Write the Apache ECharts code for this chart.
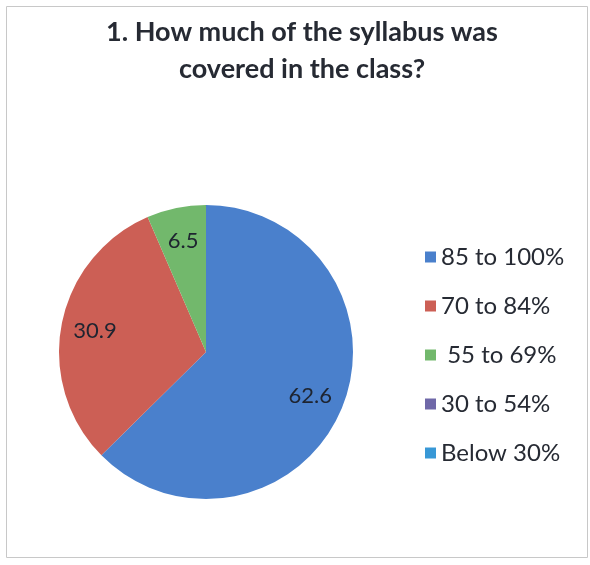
<!DOCTYPE html>
<html><head><meta charset="utf-8">
<script src="https://cdn.jsdelivr.net/npm/echarts@6/dist/echarts.min.js"></script>
<style>html,body{margin:0;padding:0;background:#fff}#c{width:590px;height:565px}</style>
</head><body><div id="c"></div>
<script>
const titleText = "1. How much of the syllabus was\ncovered in the class?";
const categories = ["85 to 100%", "70 to 84%", " 55 to 69%", "30 to 54%", "Below 30%"];
const values = [62.6, 30.9, 6.5, 0, 0];
const colors = ["#4A80CC", "#CC5F55", "#72B86C", "#6F68A8", "#3898D6"];

const chart = echarts.init(document.getElementById('c'));
const data = categories.map((n, i) => ({ name: n, value: values[i], itemStyle: { color: colors[i] } }));
const font = "Lato, 'Open Sans', sans-serif";
chart.setOption({
  animation: false,
  title: {
    text: titleText, left: 297, top: 9, textAlign: 'center',
    textStyle: { fontFamily: font, fontWeight: 'bold', fontSize: 27, lineHeight: 37, color: '#262a33' }
  },
  legend: {
    orient: 'vertical', left: 420, top: 240, itemWidth: 11, itemHeight: 11, itemGap: 25,
    icon: 'rect', data: categories,
    textStyle: { fontFamily: font, fontSize: 24, lineHeight: 24, color: '#262a33' }
  },
  graphic: [{ type: 'rect', shape: { x: 6.5, y: 6.5, width: 581, height: 551 }, style: { fill: 'none', stroke: '#c8c8c8', lineWidth: 1 }, silent: true }],
  series: [
    {
      type: 'pie', center: [206, 352], radius: [0, 147], startAngle: 90, clockwise: true,
      data: data, label: { show: false }, labelLine: { show: false },
      itemStyle: { borderWidth: 0 }, emphasis: { disabled: true }, silent: true
    },
    {
      type: 'pie', center: [206, 352], radius: [0, 220], startAngle: 90, clockwise: true,
      data: data.map(d => ({ name: d.name, value: d.value, itemStyle: { color: 'rgba(0,0,0,0)' } })),
      label: { show: true, position: 'inside', fontFamily: font, fontSize: 22, color: '#1e2430',
        formatter: p => p.value > 0 ? String(p.value) : '' },
      labelLine: { show: false }, emphasis: { disabled: true }, silent: true, z: 5
    }
  ]
});
</script></body></html>
